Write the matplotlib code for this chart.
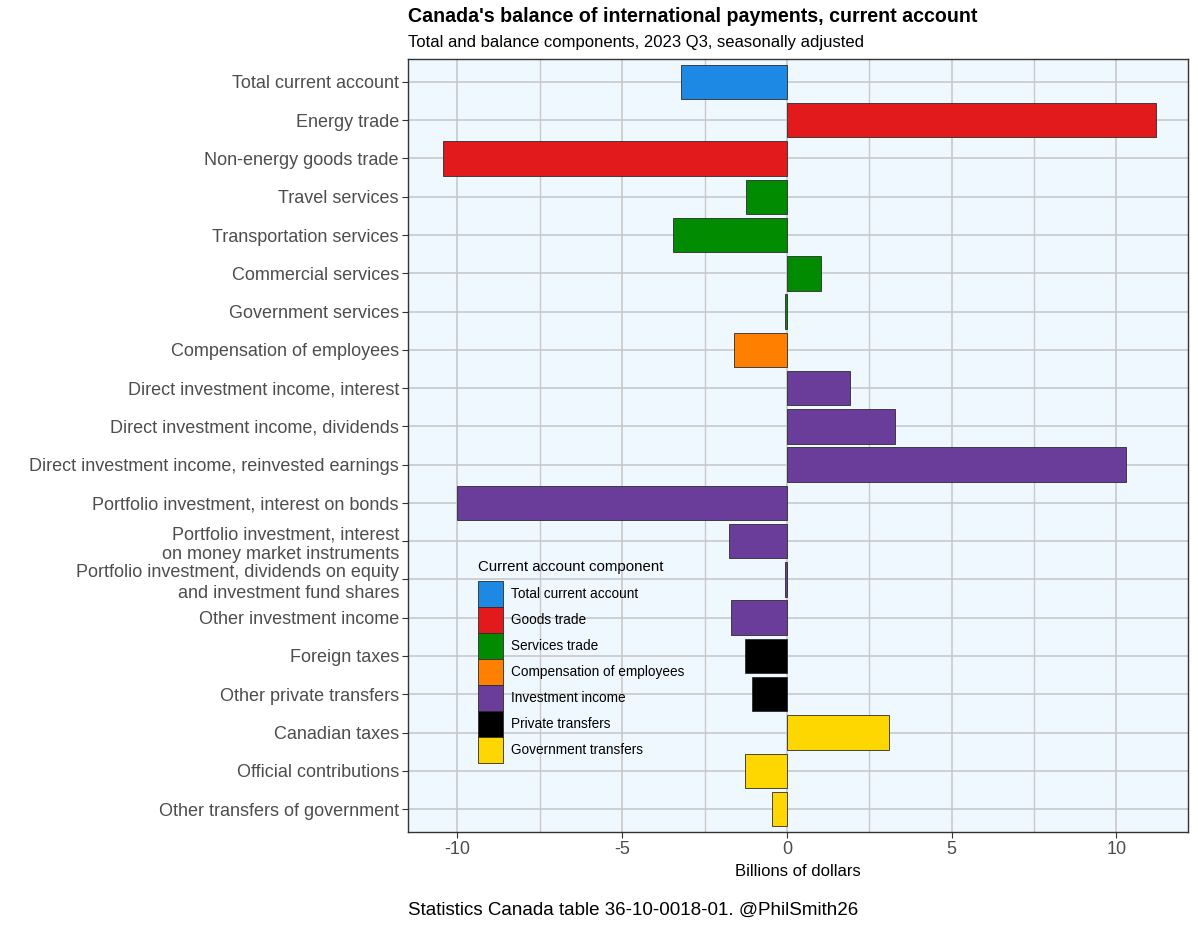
import matplotlib
matplotlib.use("Agg")
import matplotlib.pyplot as plt
from matplotlib.patches import Patch
import numpy as np

plt.rcParams['font.family'] = ['Liberation Sans', 'DejaVu Sans']

categories = [
    "Total current account",
    "Energy trade",
    "Non-energy goods trade",
    "Travel services",
    "Transportation services",
    "Commercial services",
    "Government services",
    "Compensation of employees",
    "Direct investment income, interest",
    "Direct investment income, dividends",
    "Direct investment income, reinvested earnings",
    "Portfolio investment, interest on bonds",
    "Portfolio investment, interest\non money market instruments",
    "Portfolio investment, dividends on equity\nand investment fund shares",
    "Other investment income",
    "Foreign taxes",
    "Other private transfers",
    "Canadian taxes",
    "Official contributions",
    "Other transfers of government",
]
values = [-3.22, 11.2, -10.43, -1.25, -3.46, 1.03, -0.05, -1.6, 1.92, 3.28,
          10.3, -10.0, -1.75, -0.06, -1.71, -1.27, -1.07, 3.1, -1.26, -0.44]
groups = ["Total current account", "Goods trade", "Goods trade",
          "Services trade", "Services trade", "Services trade", "Services trade",
          "Compensation of employees",
          "Investment income", "Investment income", "Investment income",
          "Investment income", "Investment income", "Investment income",
          "Investment income",
          "Private transfers", "Private transfers",
          "Government transfers", "Government transfers", "Government transfers"]
group_names = ["Total current account", "Goods trade", "Services trade",
               "Compensation of employees", "Investment income",
               "Private transfers", "Government transfers"]
group_colors = ["#1E88E5", "#E31A1C", "#008B00", "#FF7F00", "#6A3D9A",
                "#000000", "#FFD700"]
cmap = dict(zip(group_names, group_colors))

W, H = 1200, 927
fig = plt.figure(figsize=(12, 9.27), dpi=100)
ax_l, ax_r, ax_t, ax_b = 408, 1188, 59, 832
ax = fig.add_axes([ax_l/W, 1-ax_b/H, (ax_r-ax_l)/W, (ax_b-ax_t)/H])
ax.set_facecolor("#F0F8FF")

n = len(categories)
ypos = np.arange(n)
ax.barh(ypos, values, height=0.9, color=[cmap[g] for g in groups],
        edgecolor="#2B2B2B", linewidth=0.6, zorder=3)

ax.set_ylim(n - 1 + 0.6, -0.6)
ax.set_yticks(ypos)
ax.set_yticklabels(categories, fontsize=13, color="#4D4D4D", linespacing=1.24)
ax.set_xlim(-11.5, 12.17)
ax.set_xticks([-10, -5, 0, 5, 10])
ax.set_xticklabels(["-10", "-5", "0", "5", "10"], fontsize=13, color="#4D4D4D")
ax.set_xticks([-7.5, -2.5, 2.5, 7.5], minor=True)
ax.tick_params(axis='both', which='major', length=4, width=0.8, color="#333333", pad=2.5)
ax.tick_params(axis='x', which='minor', length=0)
ax.grid(True, which='major', color="#C8C8C8", linewidth=1.2, zorder=0)
ax.grid(True, which='minor', axis='x', color="#C8C8C8", linewidth=1.0, zorder=0)
ax.set_axisbelow(True)
for s in ax.spines.values():
    s.set_color("#333333")
    s.set_linewidth(1.0)

ax.set_xlabel("Billions of dollars", fontsize=12, labelpad=4)

handles = [Patch(facecolor=c, edgecolor="#2B2B2B", linewidth=0.6) for c in group_colors]
leg = ax.legend(handles, group_names, title="Current account component",
                loc="upper left",
                bbox_to_anchor=((474 - ax_l)/(ax_r-ax_l), (ax_b - 556)/(ax_b-ax_t)),
                frameon=False, fontsize=9.8, title_fontsize=10.8,
                handlelength=1.85, handleheight=2.56, labelspacing=0.0,
                handletextpad=0.55, borderaxespad=0, borderpad=0.3)
leg._legend_box.align = "left"
leg._legend_box.sep = 5

fig.text(408/W, 1-16/H, "Canada's balance of international payments, current account",
         fontsize=14.1, fontweight='bold', ha='left', va='center')
fig.text(408/W, 1-42/H, "Total and balance components, 2023 Q3, seasonally adjusted",
         fontsize=12, ha='left', va='center')
fig.text(408/W, 1-910/H, "Statistics Canada table 36-10-0018-01. @PhilSmith26",
         fontsize=13.5, ha='left', va='center')

fig.savefig("out.png", dpi=100, facecolor="white")
